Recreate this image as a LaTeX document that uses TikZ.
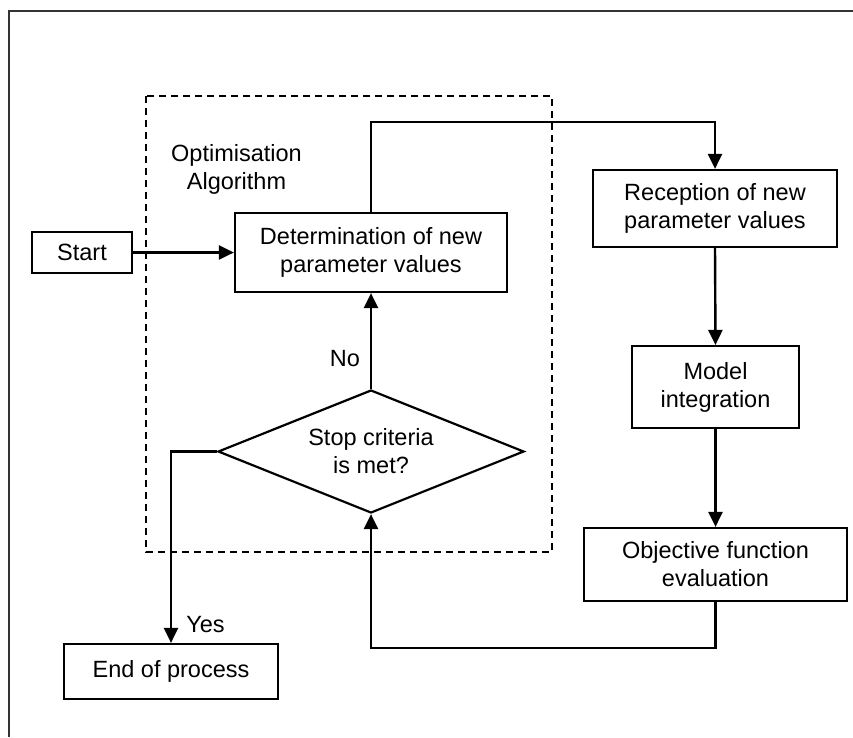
\documentclass[tikz,border=0pt]{standalone}
\usepackage{fontspec}
\setmainfont{Liberation Sans}
\usetikzlibrary{arrows.meta,shapes.geometric}

\tikzset{
  txt/.style={font=\fontsize{23.5}{28}\selectfont, align=center, inner sep=0pt},
  stepbox/.style={txt, draw, line width=2.2pt, rectangle},
  decision/.style={txt, draw, line width=2.2pt, diamond, aspect=2.49},
  link/.style={line width=2.4pt},
  arr/.style={link, -{Triangle[length=15pt,width=14pt]}},
  groupbox/.style={line width=2pt, dash pattern=on 7pt off 5pt},
  frame/.style={line width=2.6pt, black!80}
}

\begin{document}
\begin{tikzpicture}[x=1pt,y=-1pt]
  \useasboundingbox (0,0) rectangle (853,737);

  % outer frame (continues past the page edges)
  \draw[frame] (853,11) -- (9,11) -- (9,737);

  % optimisation algorithm group
  \draw[groupbox] (146,96) rectangle (552,552);
  \node[txt] (grouplabel) at (236.5,169) {Optimisation\\Algorithm};

  % process steps
  \node[stepbox, minimum width=100pt, minimum height=41pt] (start) at (82,252.5) {Start};
  \node[stepbox, minimum width=272pt, minimum height=79pt] (det) at (371,252.5) {Determination of new\\parameter values};
  \node[decision, minimum width=306pt, minimum height=123pt] (dec) at (371,451.5) {Stop criteria\\is met?};
  \node[stepbox, minimum width=244pt, minimum height=77pt] (rec) at (715,208.5) {Reception of new\\parameter values};
  \node[stepbox, minimum width=167pt, minimum height=82pt] (model) at (715.5,387) {Model\\integration};
  \node[stepbox, minimum width=263pt, minimum height=73pt] (obj) at (715.5,564.5) {Objective function\\evaluation};
  \node[stepbox, minimum width=214pt, minimum height=55pt] (endp) at (171,671.5) {End of process};

  % routing rails
  \coordinate (toprail) at (0,122);
  \coordinate (bottomrail) at (0,648);

  % connectors
  \draw[arr] (start.east) -- (det.west);
  \draw[arr] (det.north) |- (toprail -| rec.north) -- (rec.north);
  \draw[arr] (rec.south) -- (model.north);
  \draw[arr] (model.south) -- (obj.north);
  \draw[arr] (obj.south) |- (bottomrail -| dec.south) -- (dec.south);
  \draw[arr] (dec.north) -- (det.south);
  \draw[arr] (dec.west) -| (endp.north);

  % branch labels
  \node[txt] (nolabel) at (345,359) {No};
  \node[txt] (yeslabel) at (205.5,625) {Yes};
\end{tikzpicture}
\end{document}
